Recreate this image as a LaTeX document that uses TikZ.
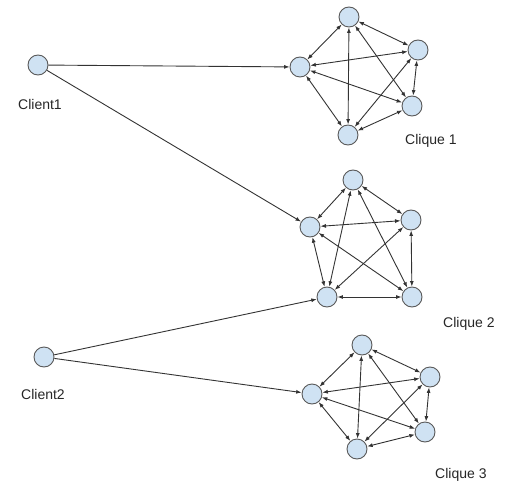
\documentclass[tikz,border=0pt]{standalone}
\usepackage{fontspec}
\setmainfont{Liberation Sans}
\usepackage{xcolor}
\definecolor{NodeBlue}{HTML}{CFE2F3}
\definecolor{NodeGray}{HTML}{595959}
\definecolor{EdgeGray}{HTML}{333333}
\usetikzlibrary{arrows.meta}
\tikzset{>={Latex[length=5.5pt,width=4pt]}}
\tikzstyle{peer}=[circle,draw=NodeGray,fill=NodeBlue,line width=0.9,minimum size=20,inner sep=0]
\tikzstyle{link}=[EdgeGray,line width=0.9]
\tikzstyle{tag}=[anchor=base west,inner sep=0,font=\fontsize{14}{16}\selectfont,text=black!85]

\begin{document}
\begin{tikzpicture}[x=1pt, y=-1pt]
		% Frame
		\useasboundingbox (0,0) rectangle (532,489);
		
		% Clients
		\node[peer] (client1) at (38,65) {};
		\node[peer] (client2) at (44,357) {};
		
		% Clique 1
		\node[peer] (a1) at (349,17) {};
		\node[peer] (a2) at (300,67) {};
		\node[peer] (a3) at (418,50) {};
		\node[peer] (a4) at (412,106) {};
		\node[peer] (a5) at (348,135) {};
		
		% Clique 2
		\node[peer] (b1) at (353,180) {};
		\node[peer] (b2) at (310,227) {};
		\node[peer] (b3) at (411,220) {};
		\node[peer] (b4) at (327,297) {};
		\node[peer] (b5) at (412,297) {};
		
		% Clique 3
		\node[peer] (c1) at (362,345) {};
		\node[peer] (c2) at (312,394) {};
		\node[peer] (c3) at (430,377) {};
		\node[peer] (c4) at (425,432) {};
		\node[peer] (c5) at (357,449) {};
		
		% Edges inside the cliques
		\foreach \k in {a,b,c}{
			\foreach \i/\j in {1/2,1/3,1/4,1/5,2/3,2/4,2/5,3/4,3/5,4/5}
				\draw[link,<->] (\k\i) -- (\k\j);
		}
		
		% Client links
		\draw[link,->] (client1) -- (a2);
		\draw[link,->] (client1) -- (b2);
		\draw[link,->] (client2) -- (b4);
		\draw[link,->] (client2) -- (c2);
		
		% Labels
		\node[tag] (lclient1) at (18,110) {Client1};
		\node[tag] (lclient2) at (21,399) {Client2};
		\node[tag] (lclique1) at (405,145) {Clique 1};
		\node[tag] (lclique2) at (443,327) {Clique 2};
		\node[tag] (lclique3) at (435,478) {Clique 3};
	\end{tikzpicture}
\end{document}
